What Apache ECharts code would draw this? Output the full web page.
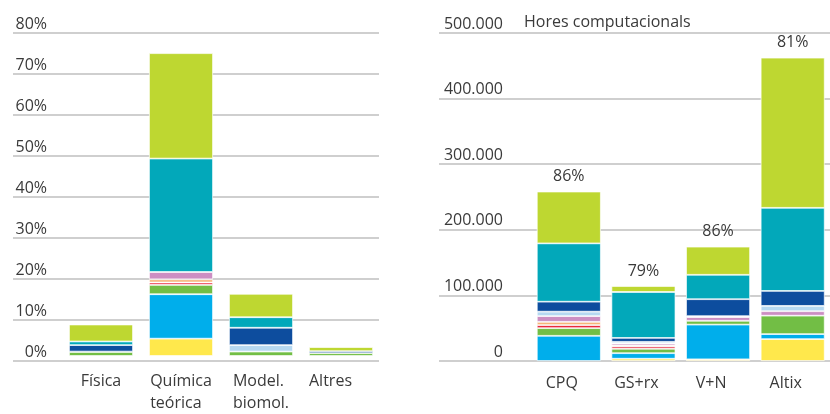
<!DOCTYPE html>
<html>
<head>
<meta charset="utf-8">
<script src="https://cdn.jsdelivr.net/npm/echarts@6/dist/echarts.min.js"></script>
<style>
  html, body { margin: 0; padding: 0; background: #fff; }
  #chart { width: 830px; height: 414px; }
</style>
</head>
<body>
<div id="chart"></div>
<script>
// left panel: share per area (%)
const areaCats = ['Física', 'Química\nteórica', 'Model.\nbiomol.', 'Altres'];
// right panel: computing hours per machine (thousands)
const machineCats = ['CPQ', 'GS+rx', 'V+N', 'Altix'];
const machineUse = ['86%', '79%', '86%', '81%'];

// stacked groups, bottom -> top
const groups = ['g1', 'g2', 'g3', 'g4', 'g5', 'g6', 'g7', 'g8', 'g9', 'g10'];

// area values (%), one array per group
const areaG1  = [0,   4.3,  0,   0];
const areaG2  = [0,   11.0, 0,   0];
const areaG3  = [1.0, 2.3,  1.1, 0.7];
const areaG4  = [0,   0.6,  0,   0];
const areaG5  = [0,   0.8,  0,   0];
const areaG6  = [0,   1.8,  0,   0];
const areaG7  = [0.1, 0,    1.6, 0];
const areaG8  = [1.6, 0,    4.3, 0.5];
const areaG9  = [0.9, 28.1, 2.6, 0];
const areaG10 = [4.2, 26.1, 5.8, 1.0];

// machine values (thousand hours), one array per group
const machG1  = [0,    3.5,  2.6,  33.4];
const machG2  = [38.4, 8.4,  52.9, 7.6];
const machG3  = [11.7, 6.8,  5.8,  28.1];
const machG4  = [4.6,  3.5,  0,    0];
const machG5  = [5.0,  1.5,  0,    0];
const machG6  = [8.7,  3.0,  5.6,  6.8];
const machG7  = [6.8,  2.5,  1.5,  8.1];
const machG8  = [15.2, 6.0,  25.8, 22.8];
const machG9  = [88.9, 70.0, 37.2, 126.7];
const machG10 = [79.0, 9.1,  42.9, 228.9];

const areaData = [areaG1, areaG2, areaG3, areaG4, areaG5, areaG6, areaG7, areaG8, areaG9, areaG10];
const machData = [machG1, machG2, machG3, machG4, machG5, machG6, machG7, machG8, machG9, machG10];

const colors = ['#FFE84C', '#00AEEB', '#72BE45', '#E8283C', '#F6B47A',
                '#CC8EC3', '#B5D8F1', '#0D4D9E', '#02A8BA', '#BED731'];

const font = '"Open Sans", "Noto Sans", sans-serif';
const txt = '#3a3a3a';

const chart = echarts.init(document.getElementById('chart'));

const gridLine = { show: true, lineStyle: { color: '#cfcfcf', width: 2 } };

function seg(name, data, i, xIdx, yIdx, stack) {
    return {
        name,
        type: 'bar',
        stack,
        xAxisIndex: xIdx,
        yAxisIndex: yIdx,
        barWidth: 64,
        // empty segments are skipped so their border doesn't cover thin ones
        data: data.map(v => v === 0 ? '-' : v),
        itemStyle: { color: colors[i], borderColor: 'rgba(255,255,255,0.85)', borderWidth: 0.8 },
        emphasis: { disabled: true },
        animation: false
    };
}

const series = [];
groups.forEach((g, i) => series.push(seg(g, areaData[i], i, 1, 1, 'area')));
groups.forEach((g, i) => {
    const s = seg(g, machData[i], i, 3, 3, 'mach');
    if (i === groups.length - 1) {
        s.label = {
            show: true,
            position: 'top',
            distance: 7,
            fontFamily: font,
            fontSize: 16,
            color: txt,
            formatter: p => machineUse[p.dataIndex]
        };
    }
    series.push(s);
});

const option = {
    animation: false,
    title: {
        text: 'Hores computacionals',
        left: 519,
        top: 9,
        textStyle: { fontFamily: font, fontSize: 16, fontWeight: 'normal', color: txt }
    },
    grid: [
        { left: 13, right: 451, top: 33, bottom: 53 },   // left gridlines
        { left: 61, right: 449, top: 33, bottom: 53 },   // left bars
        { left: 439, right: 0, top: 33, bottom: 53 },    // right gridlines
        { left: 531.5, right: -5.5, top: 33, bottom: 53 } // right bars
    ],
    xAxis: [
        { type: 'category', gridIndex: 0, data: [], show: false },
        {
            type: 'category', gridIndex: 1, data: areaCats,
            axisLine: { show: false }, axisTick: { show: false },
            axisLabel: {
                margin: 14,
                interval: 0,
                fontFamily: font, fontSize: 16, color: txt, lineHeight: 22,
                formatter: (v, i) => i === 3
                    ? '{w|' + v + '}'
                    : v.split('\n').map(l => '{l|' + l + '}').join('\n'),
                rich: {
                    l: { align: 'left', fontFamily: font, fontSize: 16, color: txt, lineHeight: 22 },
                    w: { align: 'left', width: 64, fontFamily: font, fontSize: 16, color: txt, lineHeight: 22 }
                }
            }
        },
        { type: 'category', gridIndex: 2, data: [], show: false },
        {
            type: 'category', gridIndex: 3, data: machineCats,
            axisLine: { show: false }, axisTick: { show: false },
            axisLabel: {
                margin: 14, interval: 0, padding: [0, 14, 0, 0],
                fontFamily: font, fontSize: 16, color: txt
            }
        }
    ],
    yAxis: [
        {
            type: 'value', gridIndex: 0, min: 0, max: 80, interval: 10,
            axisLine: { show: false }, axisTick: { show: false },
            splitLine: gridLine,
            axisLabel: {
                inside: true, margin: 34, align: 'right', verticalAlign: 'bottom',
                lineHeight: 18,
                fontFamily: font, fontSize: 16, color: txt,
                formatter: v => v + '%'
            }
        },
        { type: 'value', gridIndex: 1, min: 0, max: 80, show: false },
        {
            type: 'value', gridIndex: 2, min: 0, max: 500, interval: 100,
            axisLine: { show: false }, axisTick: { show: false },
            splitLine: gridLine,
            axisLabel: {
                inside: true, margin: 64, align: 'right', verticalAlign: 'bottom',
                lineHeight: 18,
                fontFamily: font, fontSize: 16, color: txt,
                formatter: v => v === 0 ? '0' : v + '.000'
            }
        },
        { type: 'value', gridIndex: 3, min: 0, max: 500, show: false }
    ],
    series
};

chart.setOption(option);
</script>
</body>
</html>
